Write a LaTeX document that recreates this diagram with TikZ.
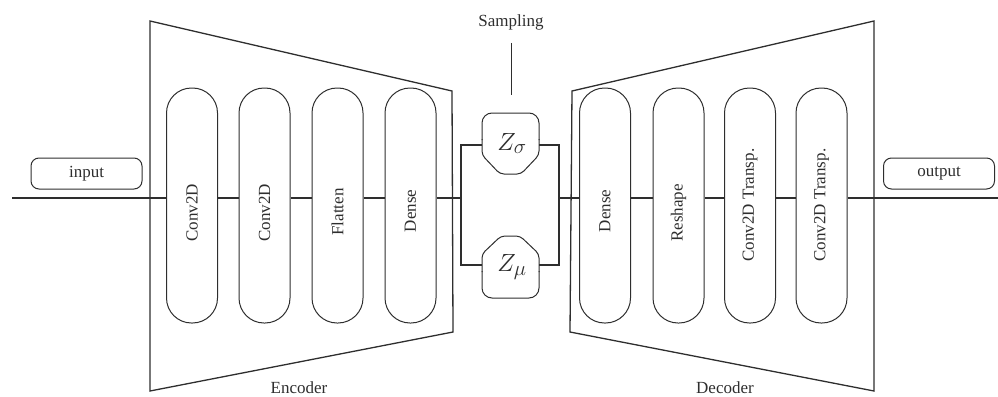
\documentclass[tikz,border=0pt]{standalone}
\usepackage{fontspec}
\usepackage{graphicx}
\setmainfont{Liberation Serif}
\definecolor{ink}{HTML}{2E2E2E}
\begin{document}
\begin{tikzpicture}[x=1pt,y=-1pt,line width=1.3pt,
  every node/.style={text=ink},
  pill/.style={draw=ink,line width=1pt,rounded corners=25pt,minimum width=51pt,minimum height=235pt,inner sep=0pt},
  plabel/.style={rotate=90,inner sep=0pt,font=\fontsize{17}{19}\selectfont},
  iobox/.style={draw=ink,line width=1pt,rounded corners=8pt,minimum width=111pt,minimum height=31pt,inner sep=0pt,font=\fontsize{17}{19}\selectfont},
  lbl/.style={font=\fontsize{17}{19}\selectfont,inner sep=0pt},
  znode/.style={minimum width=57pt,minimum height=61pt,inner sep=0pt,font=\fontsize{30}{34}\selectfont},
  conn/.style={draw=ink,line width=1.3pt},
  frame/.style={draw=ink,line width=1.3pt,line join=miter}]
\useasboundingbox (0,0) rectangle (998,396);

% encoder / decoder trapezoids
\draw[frame] (150,21) -- (452,91) -- (453,332) -- (150,391) -- cycle;
\draw[frame] (572,91) -- (874,21) -- (874,391) -- (570,332) -- cycle;

% io boxes
\node[iobox] (in) at (86.5,173.5) {input};
\node[iobox] (out) at (939,173.5) {output};

% encoder layers
\node[pill] (e1) at (192,205.5) {};
\node[pill] (e2) at (264.5,205.5) {};
\node[pill] (e3) at (337.5,205.5) {};
\node[pill] (e4) at (410.5,205.5) {};
\node[plabel] (e1t) at (192,213) {Conv2D};
\node[plabel] (e2t) at (264.5,213) {Conv2D};
\node[plabel] (e3t) at (337.5,212) {Flatten};
\node[plabel] (e4t) at (410.5,211) {Dense};

% decoder layers
\node[pill] (d1) at (605,205.5) {};
\node[pill] (d2) at (678.5,205.5) {};
\node[pill] (d3) at (750,205.5) {};
\node[pill] (d4) at (821.5,205.5) {};
\node[plabel] (d1t) at (605,211) {Dense};
\node[plabel] (d2t) at (678.5,213) {Reshape};
\node[plabel] (d3t) at (750,205) {Conv2D Transp.};
\node[plabel] (d4t) at (821.5,205) {Conv2D Transp.};

% latent nodes
\node[znode] (zs) at (512,143.5) {$Z_\sigma$};
\node[znode] (zm) at (512,267) {$Z_\mu$};
% Z sigma shape: rounded top, chamfered bottom
\draw[draw=ink,line width=1pt,rounded corners=10pt]
  (482,140) -- (482,113) -- (539,113) -- (539,140);
\draw[draw=ink,line width=1pt,rounded corners=4pt]
  (539,139) -- (539,155) -- (521,174) -- (500,174) -- (482,155) -- (482,139);
% Z mu shape: chamfered top, rounded bottom
\draw[draw=ink,line width=1pt,rounded corners=4pt]
  (482,272) -- (482,254) -- (501,236) -- (520,236) -- (539,254) -- (539,272);
\draw[draw=ink,line width=1pt,rounded corners=10pt]
  (539,271) -- (539,298) -- (482,298) -- (482,271);

% sampling
\node[lbl] (samp) at (511,22) {Sampling};
\coordinate (s1) at (511,43);
\coordinate (s2) at (511,95);
\draw[conn,line width=1pt] (s1) -- (s2);

% junction coordinates
\coordinate (start) at (12,198);
\coordinate (end) at (998,198);
\coordinate (jl) at (461,198);
\coordinate (jr) at (559,198);

% main line
\draw[conn] (start) -- (e1.west |- start);
\draw[conn] (e1.east |- start) -- (e2.west |- start);
\draw[conn] (e2.east |- start) -- (e3.west |- start);
\draw[conn] (e3.east |- start) -- (e4.west |- start);
\draw[conn] (e4.east |- start) -- (jl);
\draw[conn] (482,145) -| (jl) |- (482,265);
\draw[conn] (539,145) -| (jr) |- (539,265);
\draw[conn] (jr) -- (d1.west |- start);
\draw[conn] (d1.east |- start) -- (d2.west |- start);
\draw[conn] (d2.east |- start) -- (d3.west |- start);
\draw[conn] (d3.east |- start) -- (d4.west |- start);
\draw[conn] (d4.east |- start) -- (end);

% labels
\node[lbl] (enc) at (299,388) {Encoder};
\node[lbl] (dec) at (725,388) {Decoder};
\end{tikzpicture}
\end{document}
